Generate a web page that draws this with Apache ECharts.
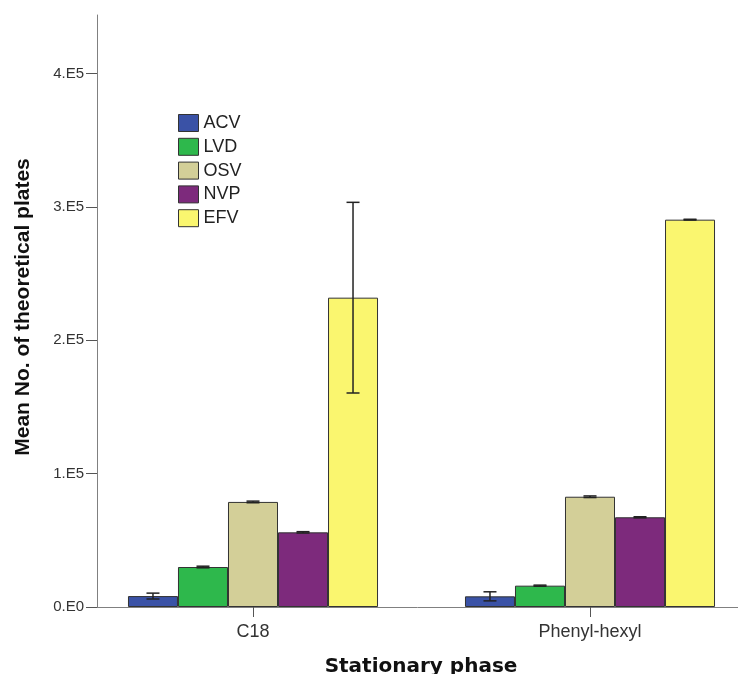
<!DOCTYPE html>
<html>
<head>
<meta charset="utf-8">
<script src="https://cdn.jsdelivr.net/npm/echarts@6/dist/echarts.min.js"></script>
<style>
  html, body { margin: 0; padding: 0; background: #fff; }
  #container { width: 738px; height: 674px; }
</style>
</head>
<body>
<div id="container"></div>
<script>
const categories = ['C18', 'Phenyl-hexyl'];
const seriesNames = ['ACV', 'LVD', 'OSV', 'NVP', 'EFV'];
const acv = [8200, 8000];
const lvd = [30000, 16000];
const osv = [78800, 82700];
const nvp = [56000, 67300];
const efv = [232000, 290500];
const acvErr = [2200, 3400];
const lvdErr = [600, 400];
const osvErr = [600, 600];
const nvpErr = [500, 400];
const efvErr = [71500, 300];
const yTicks = [0, 100000, 200000, 300000, 400000];
const yTickLabels = ['0.E0', '1.E5', '2.E5', '3.E5', '4.E5'];

const colors = ['#3a52a6', '#2eb84c', '#d3cf98', '#7d2a7c', '#faf66f'];
const means = [acv, lvd, osv, nvp, efv];
const errs = [acvErr, lvdErr, osvErr, nvpErr, efvErr];
const yMax = 444000;
const catGap = 0.258;

const errData = [];
means.forEach((m, s) => {
  m.forEach((v, c) => {
    errData.push([c, s, v - errs[s][c], v + errs[s][c]]);
  });
});

const chart = echarts.init(document.getElementById('container'));

const option = {
  animation: false,
  color: colors,
  textStyle: { fontFamily: 'Liberation Sans, Arial, sans-serif' },
  grid: [
    // bar grid runs past the right edge so the two bands land where the reference has them
    { left: 84.5, right: -20.5, top: 15, bottom: 67, outerBoundsMode: 'none', containLabel: false },
    { left: 97, right: 0, top: 15, bottom: 67, outerBoundsMode: 'none', containLabel: false }
  ],
  legend: {
    orient: 'vertical',
    left: 178,
    top: 114,
    padding: 0,
    itemWidth: 20,
    itemHeight: 17,
    itemGap: 5.8,
    icon: 'rect',
    data: seriesNames,
    textStyle: { fontSize: 18, color: '#222' },
    itemStyle: { borderColor: '#333', borderWidth: 1 }
  },
  xAxis: [
    {
      type: 'category',
      gridIndex: 0,
      data: categories,
      axisLine: { show: false },
      axisTick: { show: true, alignWithLabel: true, length: 10, lineStyle: { color: '#555' } },
      axisLabel: { fontSize: 18, color: '#333', margin: 16 }
    },
    {
      type: 'value',
      gridIndex: 1,
      min: 0,
      max: 1,
      axisLine: { show: true, onZero: false, lineStyle: { color: '#808080', width: 1 } },
      axisTick: { show: false },
      axisLabel: { show: false },
      splitLine: { show: false }
    }
  ],
  yAxis: [
    {
      type: 'value',
      gridIndex: 0,
      min: 0,
      max: yMax,
      show: false
    },
    {
      type: 'value',
      gridIndex: 1,
      min: 0,
      max: yMax,
      axisLine: { show: true, lineStyle: { color: '#808080', width: 1 } },
      axisTick: { show: true, length: 11, customValues: yTicks, lineStyle: { color: '#555' } },
      axisLabel: {
        customValues: yTicks,
        fontSize: 15,
        color: '#333',
        margin: 13,
        formatter: v => yTickLabels[yTicks.indexOf(v)] || ''
      },
      splitLine: { show: false }
    }
  ],
  graphic: [
    {
      type: 'text',
      x: 23,
      y: 307,
      rotation: Math.PI / 2,
      style: {
        text: 'Mean No. of theoretical plates',
        font: 'bold 21px Liberation Sans, Arial, sans-serif',
        fill: '#111',
        align: 'center',
        verticalAlign: 'middle'
      }
    },
    {
      type: 'text',
      x: 421,
      y: 667,
      style: {
        text: 'Stationary phase',
        font: 'bold 20px DejaVu Sans, Verdana, sans-serif',
        fill: '#111',
        align: 'center',
        verticalAlign: 'middle'
      }
    }
  ],
  series: seriesNames.map((name, s) => ({
    name: name,
    type: 'bar',
    xAxisIndex: 0,
    yAxisIndex: 0,
    barGap: '0%',
    barCategoryGap: (catGap * 100) + '%',
    itemStyle: { borderColor: '#333', borderWidth: 1 },
    data: means[s]
  })).concat([{
    type: 'custom',
    xAxisIndex: 0,
    yAxisIndex: 0,
    data: errData,
    z: 10,
    renderItem: (params, api) => {
      const c = api.value(0);
      const s = api.value(1);
      const lo = api.coord([c, api.value(2)]);
      const hi = api.coord([c, api.value(3)]);
      const band = api.size([1, 0])[0];
      const bw = band * (1 - catGap) / 5;
      const x = lo[0] + (s - 2) * bw;
      const cap = 6.5;
      const style = { stroke: '#222', lineWidth: 1.5 };
      return {
        type: 'group',
        children: [
          { type: 'line', shape: { x1: x, y1: lo[1], x2: x, y2: hi[1] }, style },
          { type: 'line', shape: { x1: x - cap, y1: lo[1], x2: x + cap, y2: lo[1] }, style },
          { type: 'line', shape: { x1: x - cap, y1: hi[1], x2: x + cap, y2: hi[1] }, style }
        ]
      };
    }
  }])
};

chart.setOption(option);
</script>
</body>
</html>
